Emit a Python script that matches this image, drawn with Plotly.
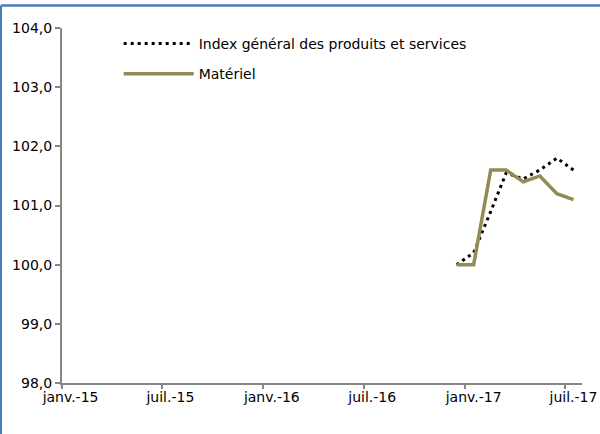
import plotly.graph_objects as go

months = ["2016-12-01", "2017-01-01", "2017-02-01", "2017-03-01",
          "2017-04-01", "2017-05-01", "2017-06-01", "2017-07-01"]
index_general = [100.0, 100.2, 100.9, 101.55, 101.45, 101.6, 101.8, 101.6]
materiel = [100.0, 100.0, 101.6, 101.6, 101.4, 101.5, 101.2, 101.1]

tick_dates = ["2015-01-01", "2015-07-01", "2016-01-01", "2016-07-01", "2017-01-01", "2017-07-01"]
tick_labels = ["janv.-15", "juil.-15", "janv.-16", "juil.-16", "janv.-17", "juil.-17"]
tick_marks = ["2014-12-16 12:00", "2015-06-16", "2015-12-16 12:00", "2016-06-16",
              "2016-12-16 12:00", "2017-06-16"]
y_ticks = [98, 99, 100, 101, 102, 103, 104]
y_labels = ["98,0", "99,0", "100,0", "101,0", "102,0", "103,0", "104,0"]

x_range = ["2014-12-16 12:00", "2017-07-16 12:00"]

FONT = "DejaVu Sans"
FS = 14
AXIS = "#868686"
BORDER = "#4A7EBB"

fig = go.Figure()
fig.add_trace(go.Scatter(
    x=months, y=index_general, mode="lines", name="Index général des produits et services",
    line=dict(color="#000000", width=3, dash="3px,4px"), legendgroup="a",
))
fig.add_trace(go.Scatter(
    x=months, y=materiel, mode="lines", name="Matériel",
    line=dict(color="#948A54", width=3.5), legendgroup="b",
))
# invisible trace to carry the tick-mark axis
fig.add_trace(go.Scatter(x=x_range, y=[None, None], xaxis="x2", showlegend=False,
                         hoverinfo="skip"))

fig.update_layout(
    width=600, height=434,
    margin=dict(l=62, r=18, t=28, b=51, autoexpand=False),
    paper_bgcolor="white", plot_bgcolor="white",
    font=dict(family=FONT, size=FS, color="#000000"),
    showlegend=True,
    legend=dict(x=0.109, y=1.0, xanchor="left", yanchor="top",
                bgcolor="rgba(0,0,0,0)", tracegroupgap=9, itemwidth=70,
                font=dict(family=FONT, size=FS, color="#000000"), traceorder="grouped"),
    xaxis=dict(type="date", range=x_range, tickvals=tick_dates, ticktext=tick_labels,
               ticks="", showgrid=False, zeroline=False, showline=True, automargin=False,
               ticklabeloverflow="allow",
               linecolor=AXIS, linewidth=2, tickfont=dict(family=FONT, size=FS)),
    xaxis2=dict(type="date", range=x_range, overlaying="x", side="bottom",
                tickvals=tick_marks, ticks="outside", ticklen=5, tickwidth=1.5,
                tickcolor=AXIS, showticklabels=False, showgrid=False, zeroline=False,
                showline=False, automargin=False),
    yaxis=dict(range=[98, 104], tickvals=y_ticks, ticktext=y_labels, ticks="outside",
               ticklen=5, tickwidth=1.5, tickcolor=AXIS, showgrid=False, zeroline=False,
               showline=True, linecolor=AXIS, linewidth=2, automargin=False,
               tickfont=dict(family=FONT, size=FS)),
    shapes=[
        dict(type="line", xref="paper", yref="paper",
             x0=-0.1173, x1=1.05, y0=1.0634, y1=1.0634,
             line=dict(color=BORDER, width=2.5), layer="above"),
        dict(type="line", xref="paper", yref="paper",
             x0=-0.1173, x1=-0.1173, y0=-0.2, y1=1.0634,
             line=dict(color=BORDER, width=2), layer="above"),
    ],
)

fig.write_html("out.html", config={"displayModeBar": False},
               post_script="document.body.style.margin='0'; document.body.style.overflow='hidden';")
